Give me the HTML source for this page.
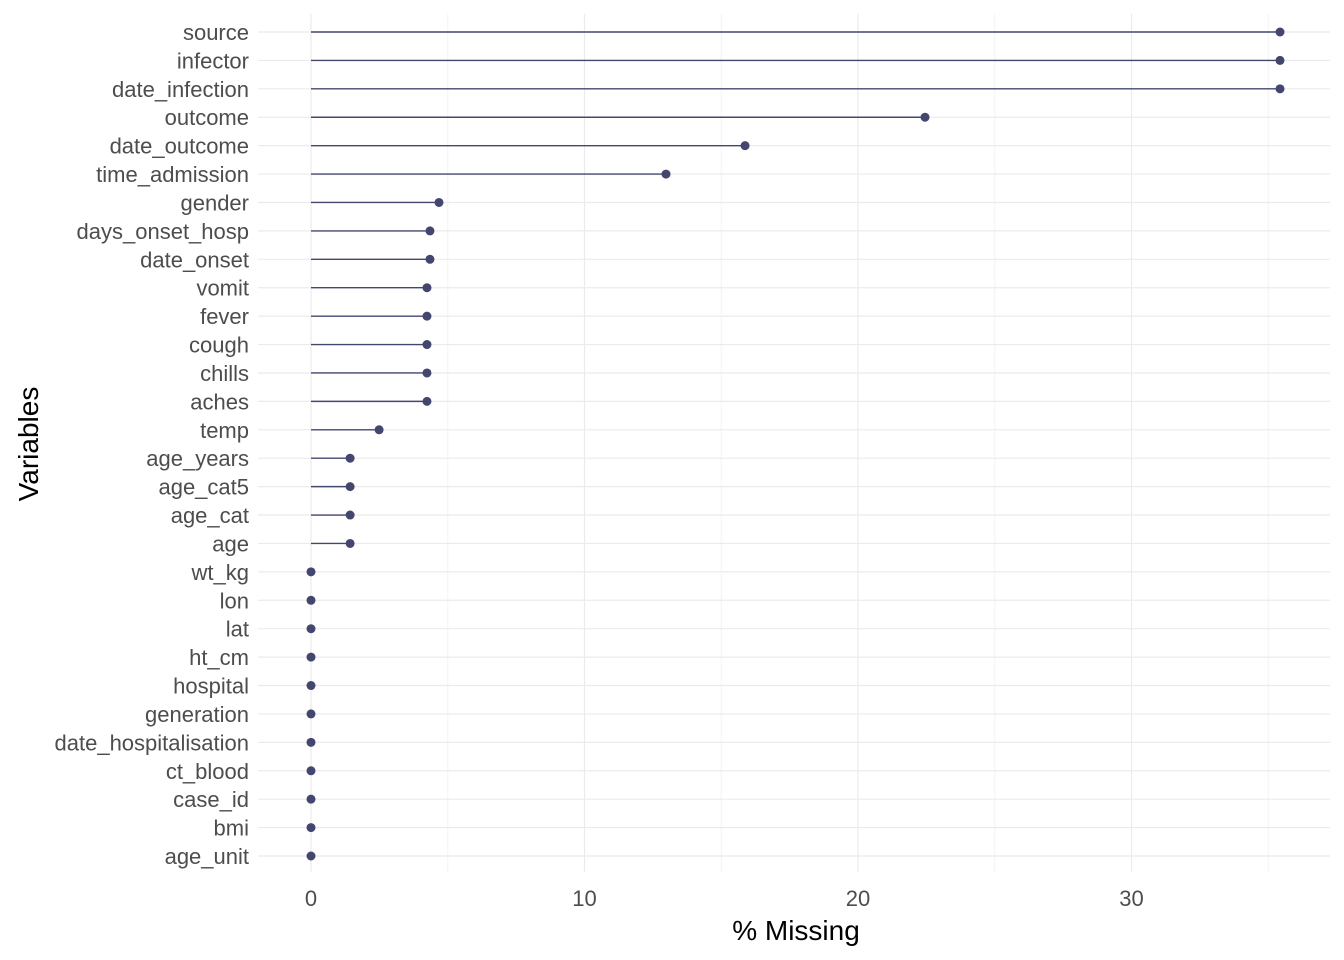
<!DOCTYPE html>
<html><head><meta charset="utf-8"><style>
html,body{margin:0;padding:0;background:#fff;}
svg{display:block;font-family:"Liberation Sans",Arial,sans-serif;}
</style></head><body>
<svg id="chart" width="1344" height="960"></svg>
<script>
const variables=["source","infector","date_infection","outcome","date_outcome","time_admission","gender","days_onset_hosp","date_onset","vomit","fever","cough","chills","aches","temp","age_years","age_cat5","age_cat","age","wt_kg","lon","lat","ht_cm","hospital","generation","date_hospitalisation","ct_blood","case_id","bmi","age_unit"];
const pctMissing=[35.43,35.43,35.43,22.45,15.87,12.98,4.68,4.35,4.35,4.24,4.24,4.24,4.24,4.24,2.49,1.43,1.43,1.43,1.43,0,0,0,0,0,0,0,0,0,0,0];
const xTicks=[0,10,20,30];
const xMinor=[5,15,25,35];
const NS="http://www.w3.org/2000/svg";
const svg=document.getElementById('chart');
const pL=258,pR=1330,pT=14,pB=872;
const x=v=>311+v*27.35;
const y=i=>32+i*(856-32)/(variables.length-1);
function mk(t,a,p){const e=document.createElementNS(NS,t);for(const k in a)e.setAttribute(k,a[k]);(p||svg).appendChild(e);return e;}
const grid=mk('g',{});


xMinor.forEach(v=>mk('line',{x1:x(v),x2:x(v),y1:pT,y2:pB,stroke:'#f3f3f3','stroke-width':1},grid));
xTicks.forEach(v=>mk('line',{x1:x(v),x2:x(v),y1:pT,y2:pB,stroke:'#ebebeb','stroke-width':1.2},grid));
variables.forEach((n,i)=>mk('line',{x1:pL,x2:pR,y1:y(i),y2:y(i),stroke:'#ebebeb','stroke-width':1.2},grid));
variables.forEach((n,i)=>{
  const g=mk('g',{});
  
  
  mk('line',{x1:x(0),x2:x(pctMissing[i]),y1:y(i),y2:y(i),stroke:'#43476f','stroke-width':1.4},g);
  mk('circle',{cx:x(pctMissing[i]),cy:y(i),r:4.5,fill:'#43476f'},g);
  const t=mk('text',{x:249,y:y(i)+8,'text-anchor':'end','font-size':22,fill:'#4d4d4d'});
  t.textContent=n;
  
  
});
xTicks.forEach(v=>{
  const t=mk('text',{x:x(v),y:906,'text-anchor':'middle','font-size':22,fill:'#4d4d4d'});
  t.textContent=v;
  
  
});
const xt=mk('text',{x:796,y:940,'text-anchor':'middle','font-size':28,fill:'#000'});
xt.textContent='% Missing';


const yt=mk('text',{x:38,y:444,'text-anchor':'middle','font-size':28,fill:'#000',transform:'rotate(-90 38 444)'});
yt.textContent='Variables';


</script>
</body></html>
